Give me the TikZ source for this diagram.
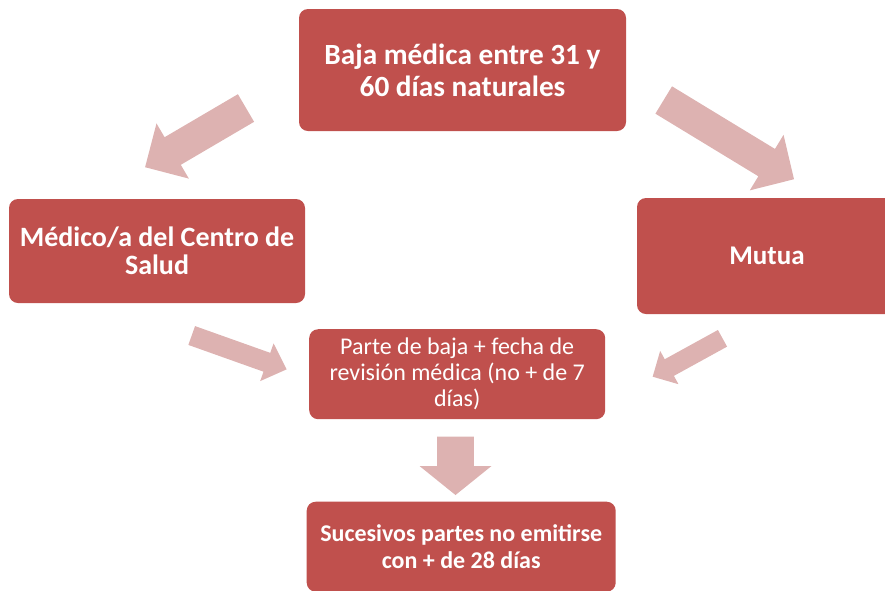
\documentclass[tikz,border=0pt]{standalone}
\usepackage{fontspec}
\setmainfont{Carlito}
\definecolor{boxred}{HTML}{C0504D}
\definecolor{arrowpink}{HTML}{DDB2B1}
\begin{document}
\begin{tikzpicture}[x=1pt,y=1pt,
  box/.style={fill=boxred, draw=none, rounded corners=9pt, text=white, align=center, inner sep=0pt},
  blk/.style={fill=arrowpink, draw=none}]
\useasboundingbox (0,0) rectangle (885,-590);
\clip (0,0) rectangle (885,-590);
% boxes
\node[box, minimum width=327pt, minimum height=122pt, font={\fontsize{29.3}{32}\selectfont\bfseries}] (top) at (462.5,-70)
  {Baja médica entre 31 y\\ 60 días naturales};
\node[box, minimum width=296pt, minimum height=104pt, font={\fontsize{28}{28.5}\selectfont\bfseries}] (left) at (157,-251)
  {Médico/a del Centro de\\ Salud};
\node[box, minimum width=260pt, minimum height=116pt, font={\fontsize{27}{30}\selectfont\bfseries}] (right) at (767,-256)
  {Mutua};
\node[box, minimum width=296pt, minimum height=90pt, font={\fontsize{24}{26}\selectfont}] (mid) at (457.2,-374.2)
  {Parte de baja + fecha de\\ revisión médica (no + de 7\\ días)};
\node[box, minimum width=309pt, minimum height=90pt, font={\fontsize{24}{26.7}\selectfont\bfseries}] (bot) at (461.2,-546.7)
  {Sucesivos partes no emitirse\\ con + de 28 días};
% arrow tails
\coordinate (a1) at (246,-108);
\coordinate (a2) at (663.7,-100);
\coordinate (a3) at (191.7,-335.5);
\coordinate (a4) at (722.5,-338.3);
\coordinate (a5) at (455.5,-436.7);
% block arrows
\begin{scope}[shift={(a1)}, rotate=210.4]
  \fill[blk] (0,-16)--(85,-16)--(85,-32)--(117,0)--(85,32)--(85,16)--(0,16)--cycle;
\end{scope}
\begin{scope}[shift={(a2)}, rotate=-31.3]
  \fill[blk] (0,-16)--(120.5,-16)--(120.5,-32.5)--(152.5,0)--(120.5,32.5)--(120.5,16)--(0,16)--cycle;
\end{scope}
\begin{scope}[shift={(a3)}, rotate=-19.6]
  \fill[blk] (0,-10)--(79.8,-10)--(79.8,-20)--(100.8,0)--(79.8,20)--(79.8,10)--(0,10)--cycle;
\end{scope}
\begin{scope}[shift={(a4)}, rotate=208.8]
  \fill[blk] (0,-9.5)--(60.7,-9.5)--(60.7,-19)--(79.7,0)--(60.7,19)--(60.7,9.5)--(0,9.5)--cycle;
\end{scope}
\begin{scope}[shift={(a5)}, rotate=-90]
  \fill[blk] (0,-18.3)--(29.3,-18.3)--(29.3,-36)--(58.3,0)--(29.3,36)--(29.3,18.3)--(0,18.3)--cycle;
\end{scope}
\end{tikzpicture}
\end{document}
